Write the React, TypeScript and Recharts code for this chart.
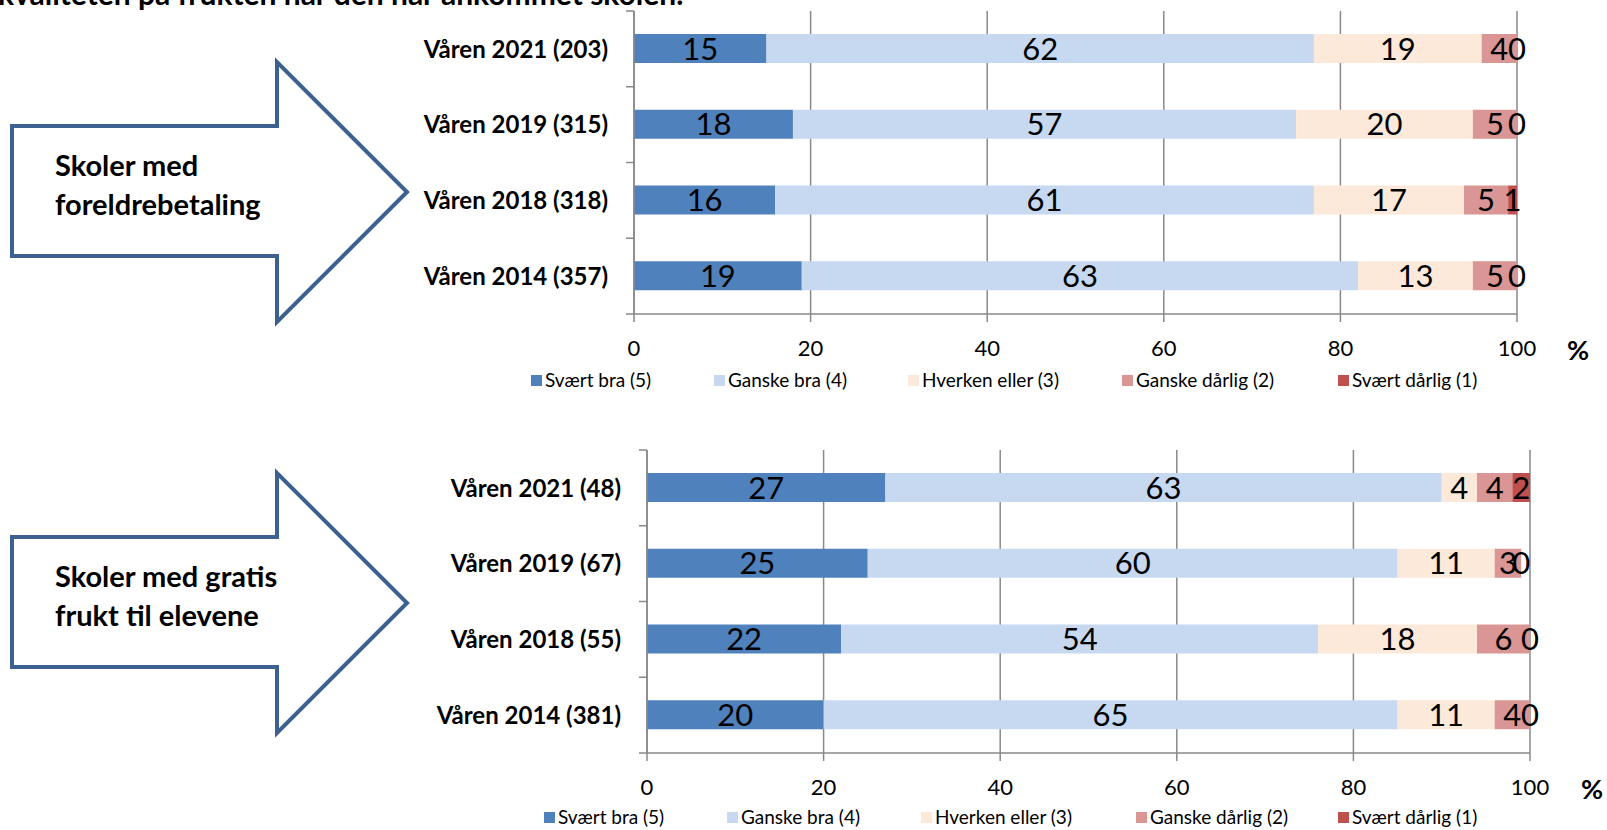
import { Bar, BarChart, CartesianGrid, LabelList, XAxis, YAxis } from 'recharts';

const SERIES = ['Svært bra (5)', 'Ganske bra (4)', 'Hverken eller (3)', 'Ganske dårlig (2)', 'Svært dårlig (1)'];
const COLORS = ['#4F81BD', '#C6D9F1', '#FDE9D9', '#D99694', '#C0504D'];
const X_TICKS = [0, 20, 40, 60, 80, 100];

// Skoler med foreldrebetaling
const TOP_CATEGORIES = ['Våren 2021 (203)', 'Våren 2019 (315)', 'Våren 2018 (318)', 'Våren 2014 (357)'];
const TOP_SVAERT_BRA = [15, 18, 16, 19];
const TOP_GANSKE_BRA = [62, 57, 61, 63];
const TOP_HVERKEN = [19, 20, 17, 13];
const TOP_GANSKE_DARLIG = [4, 5, 5, 5];
const TOP_SVAERT_DARLIG = [0, 0, 1, 0];

// Skoler med gratis frukt
const BOTTOM_CATEGORIES = ['Våren 2021 (48)', 'Våren 2019 (67)', 'Våren 2018 (55)', 'Våren 2014 (381)'];
const BOTTOM_SVAERT_BRA = [27, 25, 22, 20];
const BOTTOM_GANSKE_BRA = [63, 60, 54, 65];
const BOTTOM_HVERKEN = [4, 11, 18, 11];
const BOTTOM_GANSKE_DARLIG = [4, 3, 6, 4];
const BOTTOM_SVAERT_DARLIG = [2, 0, 0, 0];

const FONT = 'Lato, "Open Sans", sans-serif';
const AXIS_GRAY = '#898989';
const CHART_W = 1607;
const CHART_H = 370;
const MARGIN_TOP = 11;
const X_AXIS_H = 56;
const BAND = (CHART_H - MARGIN_TOP - X_AXIS_H) / 4;
const LABEL_SIZE = 31;

function buildRows(cats: string[], cols: number[][]) {
  return cats.map((name, i) => {
    const row: Record<string, string | number> = { name };
    SERIES.forEach((s, j) => {
      row[s] = cols[j][i];
    });
    return row;
  });
}

const topData = buildRows(TOP_CATEGORIES, [TOP_SVAERT_BRA, TOP_GANSKE_BRA, TOP_HVERKEN, TOP_GANSKE_DARLIG, TOP_SVAERT_DARLIG]);
const bottomData = buildRows(BOTTOM_CATEGORIES, [
  BOTTOM_SVAERT_BRA,
  BOTTOM_GANSKE_BRA,
  BOTTOM_HVERKEN,
  BOTTOM_GANSKE_DARLIG,
  BOTTOM_SVAERT_DARLIG,
]);

function CategoryTick(props: any) {
  const { x, y, payload, index, visibleTicksCount } = props;
  const last = index === (visibleTicksCount ?? 4) - 1;
  return (
    <g>
      <text x={x - 26} y={y} dy="0.36em" textAnchor="end" fontFamily={FONT} fontWeight={700} fontSize={24} fill="#000">
        {payload.value}
      </text>
      <line x1={x - 8} x2={x} y1={y - BAND / 2} y2={y - BAND / 2} stroke={AXIS_GRAY} strokeWidth={1.5} />
      {last && <line x1={x - 8} x2={x} y1={y + BAND / 2} y2={y + BAND / 2} stroke={AXIS_GRAY} strokeWidth={1.5} />}
    </g>
  );
}

// centred value label, skipped for zero values (those are drawn at the stack end)
function CenterLabel(props: any) {
  const { x, y, width, height, value } = props;
  if (!value) return null;
  return (
    <text x={x + width / 2} y={y + height / 2} dy="0.36em" textAnchor="middle" fontFamily={FONT} fontSize={LABEL_SIZE} fill="#000">
      {value}
    </text>
  );
}

// zero value of the last series, drawn where its empty segment sits (end of the previous segment)
function ZeroEndLabel(props: any) {
  const { x, y, width, height, value } = props;
  if (value !== 0) return null;
  return (
    <text x={x + width} y={y + height / 2} dy="0.36em" textAnchor="middle" fontFamily={FONT} fontSize={LABEL_SIZE} fill="#000">
      {value}
    </text>
  );
}

function StackedChart({ data, left, right }: { data: any[]; left: number; right: number }) {
  const lastKey = SERIES[SERIES.length - 1];
  return (
    <BarChart
      width={CHART_W}
      height={CHART_H}
      data={data}
      layout="vertical"
      barSize={29}
      margin={{ top: MARGIN_TOP, right, bottom: 0, left: 0 }}
    >
      <CartesianGrid horizontal={false} stroke={AXIS_GRAY} strokeWidth={1.5} />
      <XAxis
        type="number"
        domain={[0, 100]}
        ticks={X_TICKS}
        height={X_AXIS_H}
        tickSize={8}
        tickMargin={18}
        stroke={AXIS_GRAY}
        strokeWidth={1.5}
        tick={{ fill: '#000', fontSize: 22, fontFamily: FONT }}
      />
      <YAxis
        type="category"
        dataKey="name"
        width={left}
        tickSize={0}
        tickMargin={0}
        stroke={AXIS_GRAY}
        strokeWidth={1.5}
        tick={<CategoryTick />}
        interval={0}
      />
      {SERIES.map((s, i) => (
        <Bar key={s} dataKey={s} stackId="a" fill={COLORS[i]} isAnimationActive={false}>
          <LabelList dataKey={s} content={<CenterLabel />} />
          {i === SERIES.length - 2 && <LabelList dataKey={lastKey} content={<ZeroEndLabel />} />}
        </Bar>
      ))}
    </BarChart>
  );
}

function LegendRow({ top, xs }: { top: number; xs: number[] }) {
  return (
    <>
      {SERIES.map((s, i) => (
        <div
          key={s}
          style={{
            position: 'absolute',
            left: xs[i],
            top: top - 11,
            height: 22,
            lineHeight: '22px',
            display: 'flex',
            alignItems: 'center',
            fontFamily: FONT,
            fontSize: 19,
            color: '#000',
            whiteSpace: 'nowrap',
          }}
        >
          <span style={{ display: 'inline-block', width: 11, height: 11, background: COLORS[i], marginRight: 3 }} />
          {s}
        </div>
      ))}
    </>
  );
}

const TOP_LEGEND_X = [531, 714, 908, 1122, 1338];
const BOTTOM_LEGEND_X = [544, 727, 921, 1136, 1338];

function Arrow({ y, lines }: { y: number; lines: string[] }) {
  // y = top of arrow head
  const pts = [
    [12, y + 64],
    [277, y + 64],
    [277, y],
    [407, y + 130],
    [277, y + 260],
    [277, y + 194],
    [12, y + 194],
  ]
    .map((p) => p.join(','))
    .join(' ');
  return (
    <g>
      <polygon points={pts} fill="#fff" stroke="#3C6190" strokeWidth={4} />
      {lines.map((t, i) => (
        <text key={t} x={55} y={y + 114 + i * 39} fontFamily={FONT} fontWeight={700} fontSize={29} fill="#000">
          {t}
        </text>
      ))}
    </g>
  );
}

export default function App() {
  return (
    <div style={{ position: 'absolute', left: 0, top: 0, width: 1607, height: 830, background: '#fff', overflow: 'hidden' }}>
      <svg width={1607} height={830} style={{ position: 'absolute', left: 0, top: 0 }}>
        <text x={-2} y={5} fontFamily={FONT} fontWeight={700} fontSize={30} fill="#000">
          kvaliteten på frukten når den har ankommet skolen.
        </text>
        <Arrow y={62} lines={['Skoler med', 'foreldrebetaling']} />
        <Arrow y={473} lines={['Skoler med gratis', 'frukt til elevene']} />
        <text x={1578} y={350} dy="0.36em" textAnchor="middle" fontFamily={FONT} fontWeight={700} fontSize={27} fill="#000">
          %
        </text>
        <text x={1592} y={789} dy="0.36em" textAnchor="middle" fontFamily={FONT} fontWeight={700} fontSize={27} fill="#000">
          %
        </text>
      </svg>
      <div style={{ position: 'absolute', left: 0, top: 0 }}>
        <StackedChart data={topData} left={634} right={90} />
      </div>
      <div style={{ position: 'absolute', left: 0, top: 439 }}>
        <StackedChart data={bottomData} left={647} right={77} />
      </div>
      <LegendRow top={380} xs={TOP_LEGEND_X} />
      <LegendRow top={817} xs={BOTTOM_LEGEND_X} />
    </div>
  );
}
